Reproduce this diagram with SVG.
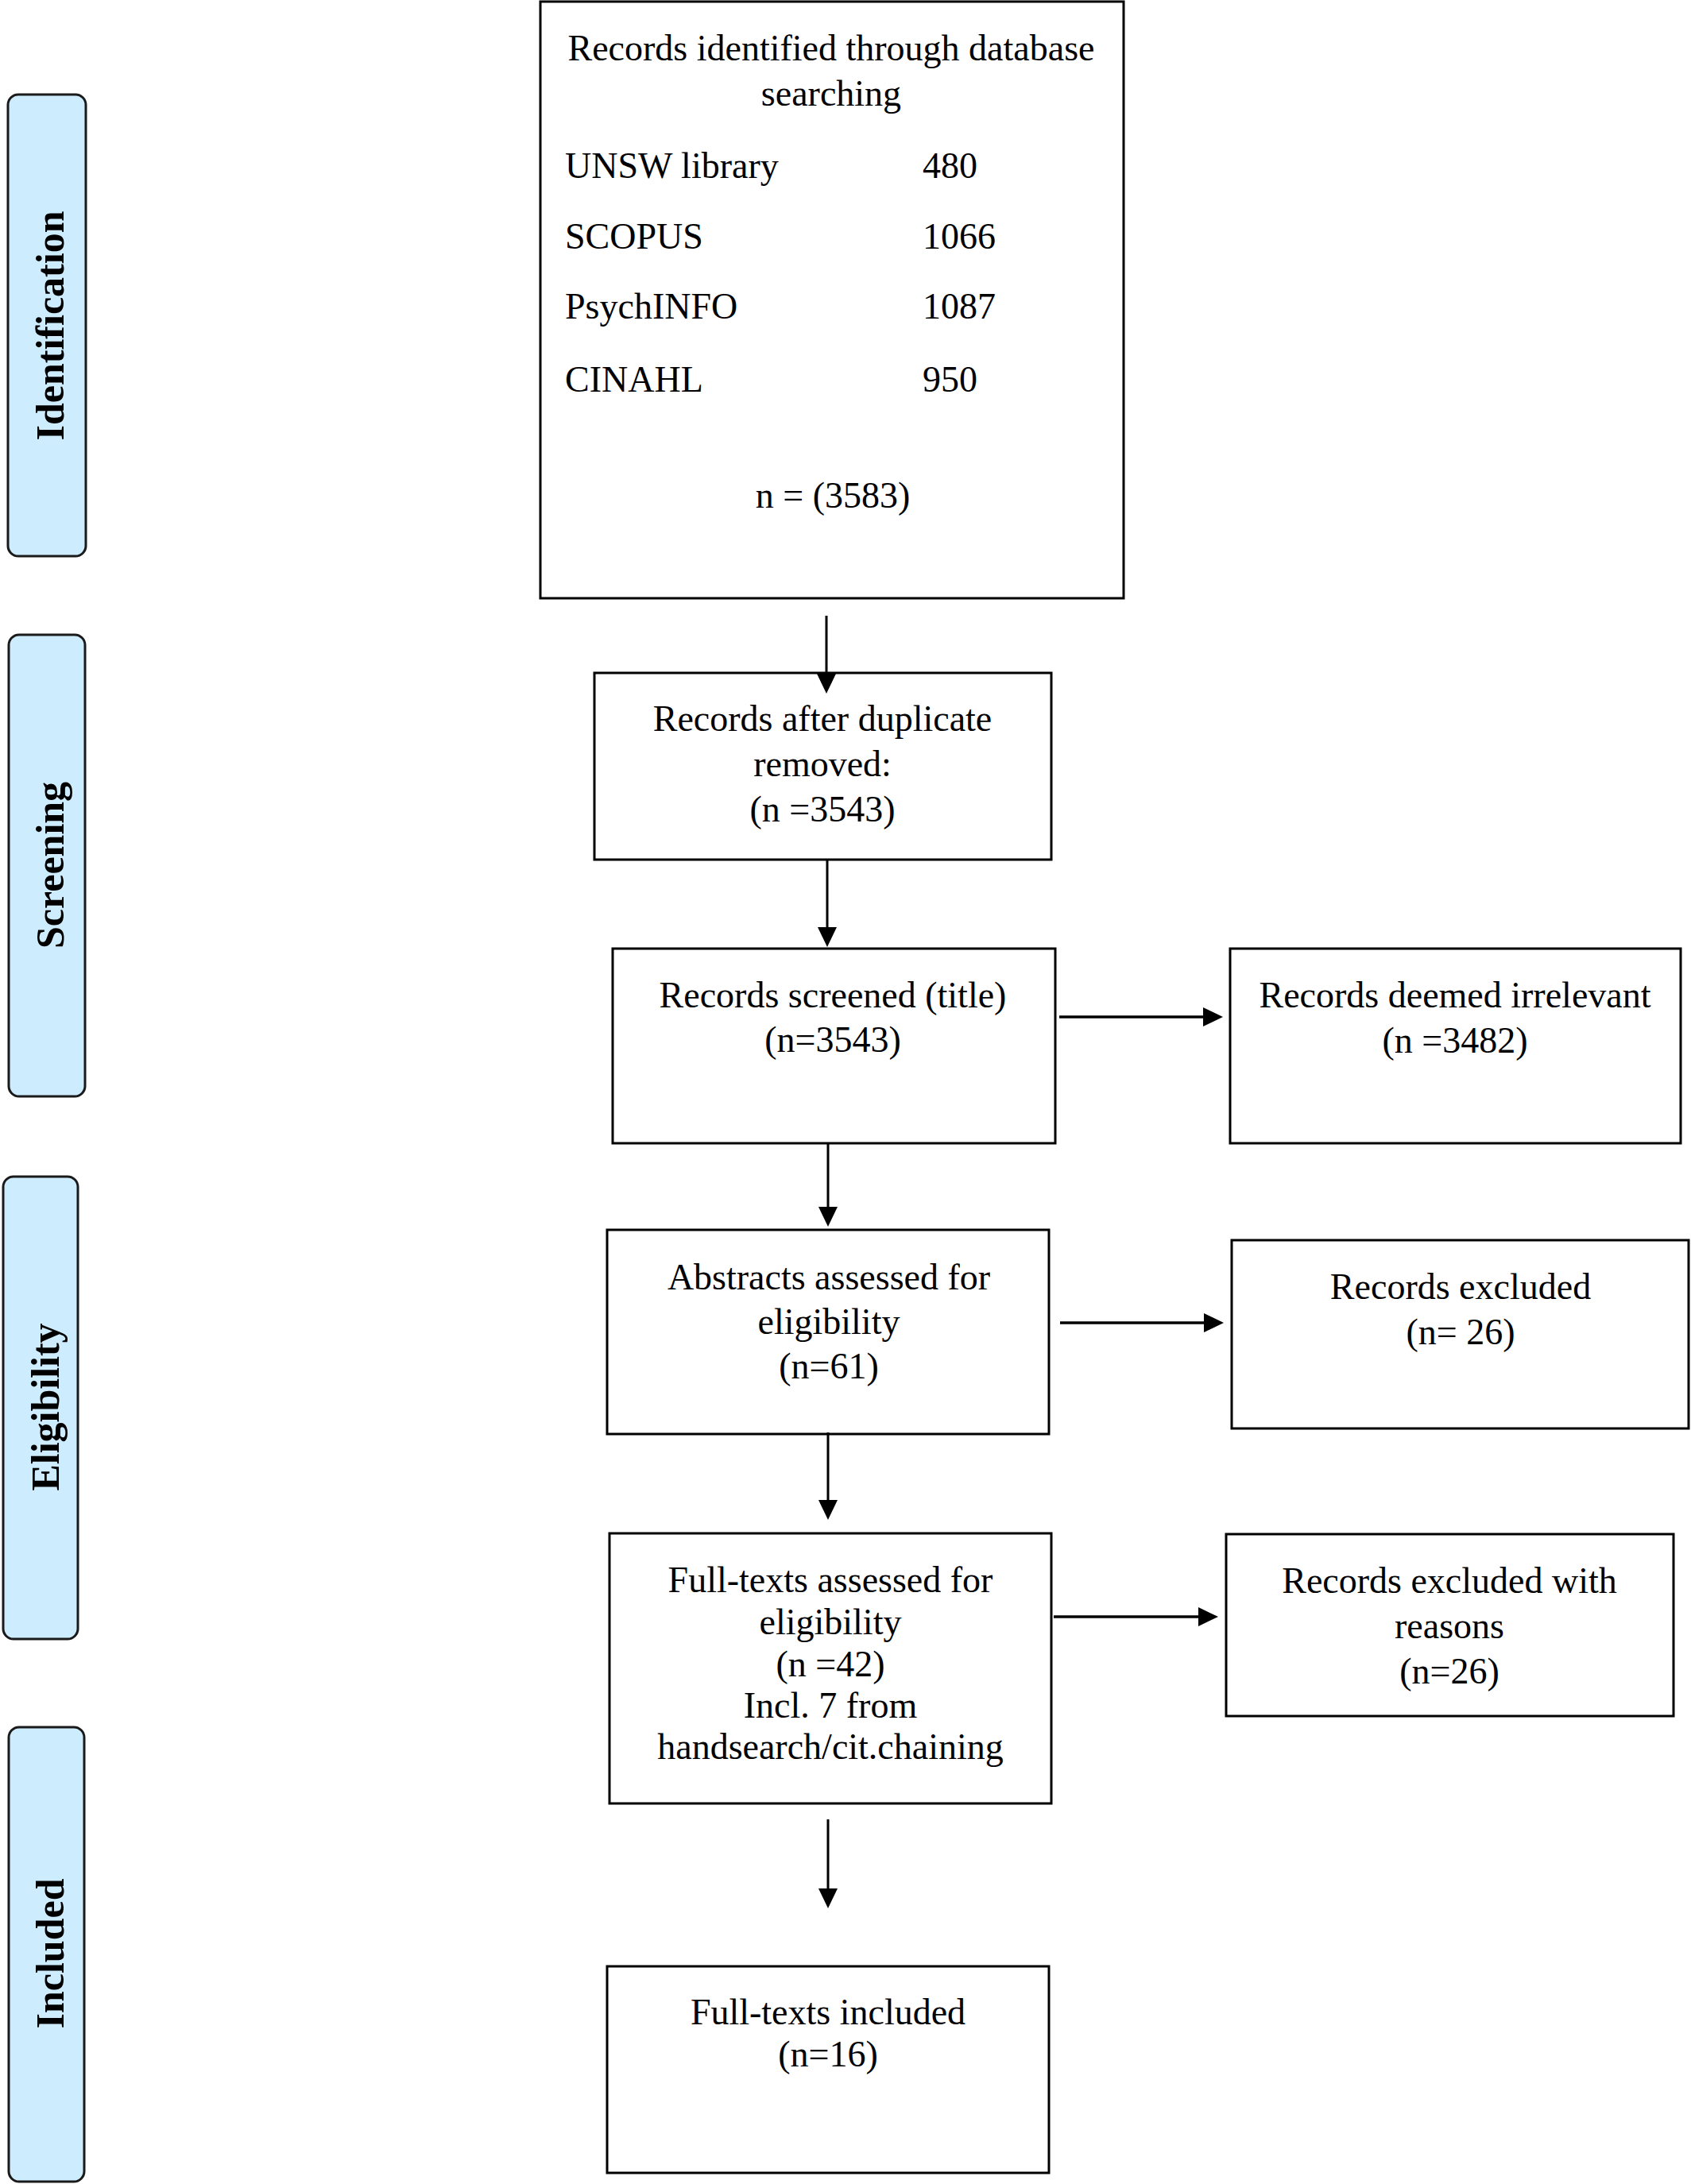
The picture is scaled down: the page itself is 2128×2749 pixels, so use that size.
<svg xmlns="http://www.w3.org/2000/svg" width="2128" height="2749" viewBox="0 0 2128 2749">
<defs>
<marker id="ah" viewBox="0 0 25 24" refX="0" refY="12" markerWidth="25" markerHeight="24" markerUnits="userSpaceOnUse" orient="auto">
<path d="M0,0 L25,12 L0,24 z" fill="#000"/>
</marker>
<style>
.lane{fill:#cdecfd;stroke:#1a1a1a;stroke-width:3}
.lt{font-family:"Liberation Serif","Times New Roman",serif;font-weight:bold;font-size:50px;fill:#000;text-anchor:middle}
.box{fill:#fff;stroke:#000;stroke-width:3}
.t{font-family:"Liberation Serif","Times New Roman",serif;font-size:46px;fill:#000;text-anchor:middle}
.tl{font-family:"Liberation Serif","Times New Roman",serif;font-size:46px;fill:#000}
.v{stroke:#000;stroke-width:3;fill:none;marker-end:url(#ah)}
.h{stroke:#000;stroke-width:3.5;fill:none;marker-end:url(#ah)}
</style>
</defs>
<rect width="2128" height="2749" fill="#fff"/>

<g id="lane-identification">
<rect class="lane" x="10" y="119" width="98" height="581" rx="13"/>
<text class="lt" transform="translate(80,410) rotate(-90)">Identification</text>
</g>
<g id="lane-screening">
<rect class="lane" x="11" y="799" width="96" height="581" rx="13"/>
<text class="lt" transform="translate(80,1089) rotate(-90)">Screening</text>
</g>
<g id="lane-eligibility">
<rect class="lane" x="4" y="1481" width="94" height="582" rx="13"/>
<text class="lt" transform="translate(74,1771) rotate(-90)">Eligibility</text>
</g>
<g id="lane-included">
<rect class="lane" x="11" y="2174" width="95" height="572" rx="13"/>
<text class="lt" transform="translate(80,2459) rotate(-90)">Included</text>
</g>

<g id="node-identified">
<rect class="box" x="680" y="2" width="734" height="751"/>
<text class="t" x="1046" y="76">Records identified through database</text>
<text class="t" x="1046" y="133">searching</text>
<text class="tl" x="711" y="224">UNSW library</text>
<text class="tl" x="1161" y="224">480</text>
<text class="tl" x="711" y="313">SCOPUS</text>
<text class="tl" x="1161" y="313">1066</text>
<text class="tl" x="711" y="401">PsychINFO</text>
<text class="tl" x="1161" y="401">1087</text>
<text class="tl" x="711" y="493">CINAHL</text>
<text class="tl" x="1161" y="493">950</text>
<text class="t" x="1048" y="639">n = (3583)</text>
</g>

<g id="node-duplicates">
<rect class="box" x="748" y="847" width="575" height="235"/>
<text class="t" x="1035" y="920">Records after duplicate</text>
<text class="t" x="1035" y="977">removed:</text>
<text class="t" x="1035" y="1034">(n =3543)</text>
</g>

<g id="node-screened">
<rect class="box" x="771" y="1194" width="557" height="245"/>
<text class="t" x="1048" y="1268">Records screened (title)</text>
<text class="t" x="1048" y="1324">(n=3543)</text>
</g>

<g id="node-irrelevant">
<rect class="box" x="1548" y="1194" width="567" height="245"/>
<text class="t" x="1831" y="1268">Records deemed irrelevant</text>
<text class="t" x="1831" y="1325">(n =3482)</text>
</g>

<g id="node-abstracts">
<rect class="box" x="764" y="1548" width="556" height="257"/>
<text class="t" x="1043" y="1623">Abstracts assessed for</text>
<text class="t" x="1043" y="1679">eligibility</text>
<text class="t" x="1043" y="1735">(n=61)</text>
</g>

<g id="node-excluded">
<rect class="box" x="1550" y="1561" width="575" height="237"/>
<text class="t" x="1838" y="1635">Records excluded</text>
<text class="t" x="1838" y="1692">(n= 26)</text>
</g>

<g id="node-fulltexts">
<rect class="box" x="767" y="1930" width="556" height="340"/>
<text class="t" x="1045" y="2004">Full-texts assessed for</text>
<text class="t" x="1045" y="2057">eligibility</text>
<text class="t" x="1045" y="2110">(n =42)</text>
<text class="t" x="1045" y="2162">Incl. 7 from</text>
<text class="t" x="1045" y="2214">handsearch/cit.chaining</text>
</g>

<g id="node-reasons">
<rect class="box" x="1543" y="1931" width="563" height="229"/>
<text class="t" x="1824" y="2005">Records excluded with</text>
<text class="t" x="1824" y="2062">reasons</text>
<text class="t" x="1824" y="2119">(n=26)</text>
</g>

<g id="node-included">
<rect class="box" x="764" y="2475" width="556" height="260"/>
<text class="t" x="1042" y="2548">Full-texts included</text>
<text class="t" x="1042" y="2601">(n=16)</text>
</g>

<g id="connectors">
<path class="v" d="M1040,775 V848"/>
<path class="v" d="M1041,1082 V1167"/>
<path class="h" d="M1333,1280 H1514"/>
<path class="v" d="M1042,1439 V1519"/>
<path class="h" d="M1334,1665 H1515"/>
<path class="v" d="M1042,1803 V1888"/>
<path class="h" d="M1326,2035 H1508"/>
<path class="v" d="M1042,2290 V2377"/>
</g>
</svg>
